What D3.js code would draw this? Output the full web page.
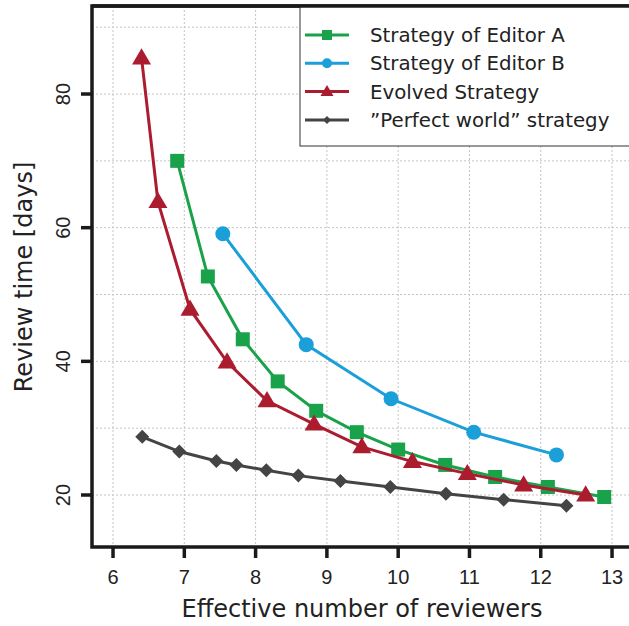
<!DOCTYPE html>
<html>
<head>
<meta charset="utf-8">
<script src="https://cdn.jsdelivr.net/npm/d3@7"></script>
<style>
  body { margin: 0; background: #fff; }
  svg { display: block; }
</style>
</head>
<body>
<div id="chart"></div>
<script>
// data
const editorAX = [6.90, 7.33, 7.82, 8.31, 8.85, 9.42, 10.00, 10.66, 11.36, 12.10, 12.89];
const editorAY = [70.0, 52.7, 43.3, 37.0, 32.6, 29.4, 26.8, 24.5, 22.7, 21.2, 19.7];
const editorBX = [7.54, 8.71, 9.90, 11.06, 12.22];
const editorBY = [59.1, 42.5, 34.4, 29.4, 26.0];
const evolvedX = [6.40, 6.63, 7.08, 7.60, 8.16, 8.82, 9.49, 10.20, 10.97, 11.76, 12.63];
const evolvedY = [85.4, 63.9, 47.8, 39.9, 34.1, 30.6, 27.2, 25.0, 23.2, 21.5, 20.0];
const perfectX = [6.41, 6.93, 7.45, 7.73, 8.15, 8.60, 9.19, 9.89, 10.67, 11.48, 12.36];
const perfectY = [28.7, 26.5, 25.1, 24.5, 23.7, 22.9, 22.1, 21.2, 20.2, 19.3, 18.4];
const xTicks = [6, 7, 8, 9, 10, 11, 12, 13];
const yTicks = [20, 40, 60, 80];
const yGrid = [20, 30, 40, 50, 60, 70, 80, 90];

const series = [
  { name: '\u201DPerfect world\u201D strategy', xs: perfectX, ys: perfectY, color: '#444444', shape: 'diamond' },
  { name: 'Strategy of Editor B', xs: editorBX, ys: editorBY, color: '#1a9fd9', shape: 'circle' },
  { name: 'Strategy of Editor A', xs: editorAX, ys: editorAY, color: '#1aa24b', shape: 'square' },
  { name: 'Evolved Strategy', xs: evolvedX, ys: evolvedY, color: '#ab1c2f', shape: 'triangle' },
];
const legendOrder = ['Strategy of Editor A', 'Strategy of Editor B', 'Evolved Strategy', '\u201DPerfect world\u201D strategy'];

const width = 629, height = 626;
const plotLeft = 92, plotRight = 632, plotTop = 6, plotBottom = 547;

const x = d3.scaleLinear().domain([5.705, 13.28]).range([plotLeft, plotRight]);
const y = d3.scaleLinear().domain([12.22, 93.17]).range([plotBottom, plotTop]);

const svg = d3.select('#chart').append('svg')
  .attr('width', width).attr('height', height);

const tickFont = '"Liberation Sans Narrow", "Liberation Sans", Arial, sans-serif';
const labelFont = '"DejaVu Sans", "Noto Sans", sans-serif';

// grid
svg.append('g').selectAll('line').data(xTicks).join('line')
  .attr('x1', d => x(d)).attr('x2', d => x(d))
  .attr('y1', plotTop).attr('y2', plotBottom)
  .attr('stroke', '#c4c4c4').attr('stroke-width', 1).attr('stroke-dasharray', '2,2');
svg.append('g').selectAll('line').data(yGrid).join('line')
  .attr('x1', plotLeft).attr('x2', plotRight)
  .attr('y1', d => y(d)).attr('y2', d => y(d))
  .attr('stroke', '#c4c4c4').attr('stroke-width', 1).attr('stroke-dasharray', '2,2');

// markers
function drawMarker(g, shape, cx, cy, s, color) {
  if (shape === 'square') {
    g.append('rect').attr('x', cx - s / 2).attr('y', cy - s / 2)
      .attr('width', s).attr('height', s).attr('fill', color);
  } else if (shape === 'circle') {
    g.append('circle').attr('cx', cx).attr('cy', cy).attr('r', s / 2).attr('fill', color);
  } else if (shape === 'triangle') {
    const h = s * 0.85;
    g.append('path')
      .attr('d', `M${cx},${cy - h * 0.6}L${cx + s / 2},${cy + h * 0.4}L${cx - s / 2},${cy + h * 0.4}Z`)
      .attr('fill', color);
  } else {
    const r = s / 2;
    g.append('path')
      .attr('d', `M${cx},${cy - r}L${cx + r},${cy}L${cx},${cy + r}L${cx - r},${cy}Z`)
      .attr('fill', color);
  }
}
const markerSize = { square: 14, circle: 15, triangle: 19, diamond: 14 };

const line = d3.line().x(d => x(d[0])).y(d => y(d[1]));
series.forEach(s => {
  const pts = s.xs.map((v, i) => [v, s.ys[i]]);
  const g = svg.append('g');
  g.append('path').datum(pts).attr('d', line)
    .attr('fill', 'none').attr('stroke', s.color).attr('stroke-width', 3);
  pts.forEach(p => drawMarker(g, s.shape, x(p[0]), y(p[1]), markerSize[s.shape], s.color));
});

// frame
svg.append('path')
  .attr('d', `M${plotRight},${plotTop}H${plotLeft}V${plotBottom}H${plotRight}`)
  .attr('fill', 'none').attr('stroke', '#1a1a1a').attr('stroke-width', 3.5);

// x axis ticks
const xAxis = svg.append('g');
xAxis.selectAll('line').data(xTicks).join('line')
  .attr('x1', d => x(d)).attr('x2', d => x(d))
  .attr('y1', plotBottom).attr('y2', plotBottom + 11)
  .attr('stroke', '#1a1a1a').attr('stroke-width', 3.5);
xAxis.selectAll('text').data(xTicks).join('text')
  .attr('x', d => x(d)).attr('y', 584)
  .attr('text-anchor', 'middle')
  .attr('font-family', tickFont).attr('font-size', 20).attr('fill', '#222')
  .text(d => d);

// y axis ticks
const yAxis = svg.append('g');
yAxis.selectAll('line').data(yTicks).join('line')
  .attr('x1', plotLeft - 11).attr('x2', plotLeft)
  .attr('y1', d => y(d)).attr('y2', d => y(d))
  .attr('stroke', '#1a1a1a').attr('stroke-width', 3.5);
yAxis.selectAll('text').data(yTicks).join('text')
  .attr('transform', d => `translate(70,${y(d)}) rotate(-90)`)
  .attr('text-anchor', 'middle')
  .attr('font-family', tickFont).attr('font-size', 20).attr('fill', '#222')
  .text(d => d);

// axis titles
svg.append('text')
  .attr('x', 362).attr('y', 617)
  .attr('text-anchor', 'middle')
  .attr('font-family', labelFont).attr('font-size', 24).attr('fill', '#222')
  .text('Effective number of reviewers');
svg.append('text')
  .attr('transform', `translate(32,277) rotate(-90)`)
  .attr('text-anchor', 'middle')
  .attr('font-family', labelFont).attr('font-size', 24).attr('fill', '#222')
  .text('Review time [days]');

// legend
const legend = svg.append('g');
legend.append('rect')
  .attr('x', 300).attr('y', plotTop).attr('width', 340).attr('height', 140)
  .attr('fill', '#fff').attr('stroke', '#333').attr('stroke-width', 1);
svg.append('line').attr('x1', plotLeft).attr('x2', plotRight).attr('y1', plotTop).attr('y2', plotTop)
  .attr('stroke', '#1a1a1a').attr('stroke-width', 3.5);
const legendSize = { square: 10, circle: 10, triangle: 13, diamond: 8 };
legendOrder.forEach((name, i) => {
  const s = series.find(d => d.name === name);
  const ly = 35 + i * 28.3;
  legend.append('line').attr('x1', 305).attr('x2', 349).attr('y1', ly).attr('y2', ly)
    .attr('stroke', s.color).attr('stroke-width', 3);
  drawMarker(legend, s.shape, 327, ly, legendSize[s.shape], s.color);
  legend.append('text')
    .attr('x', 370).attr('y', ly + 7)
    .attr('font-family', labelFont).attr('font-size', 19.8).attr('fill', '#222')
    .text(name);
});
</script>
</body>
</html>
